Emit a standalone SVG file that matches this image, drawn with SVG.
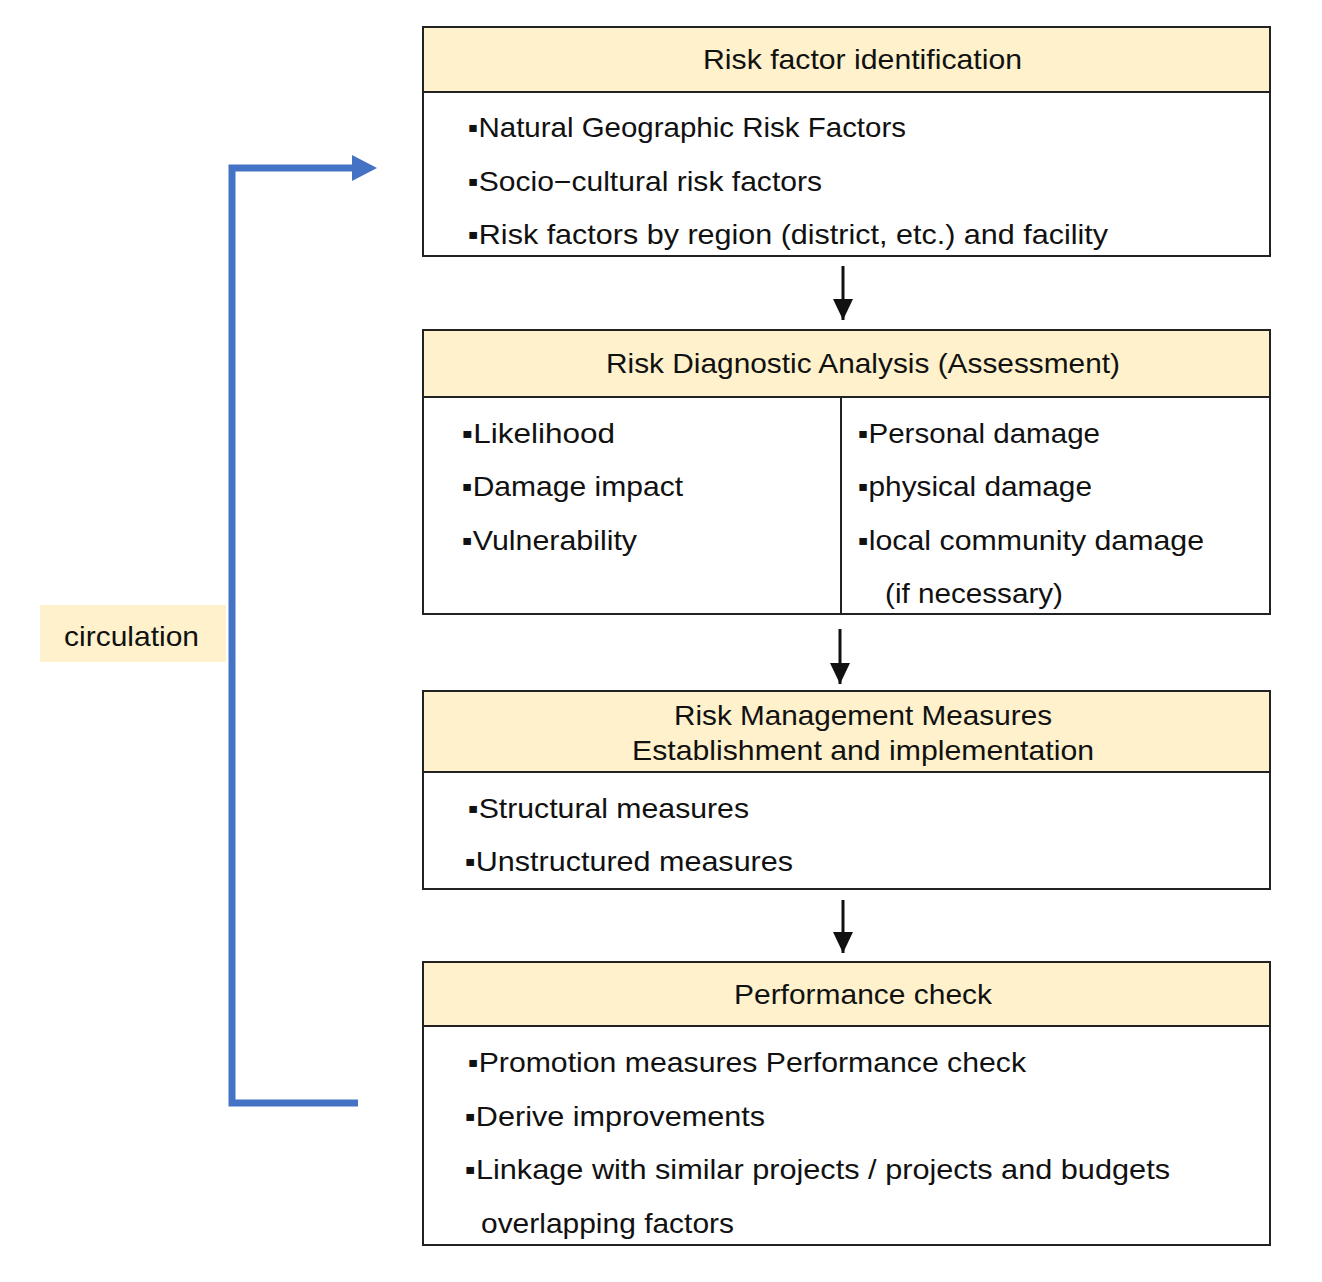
<svg xmlns="http://www.w3.org/2000/svg" width="1322" height="1282" viewBox="0 0 1322 1282">
<style>
.box{fill:#fff;stroke:#222;stroke-width:2}
.hd{fill:#fef1cb;stroke:#222;stroke-width:2}
.t{font-family:"Liberation Sans",Arial,sans-serif;font-size:28px;fill:#111}
.blue{fill:none;stroke:#4472c4;stroke-width:7}
.ar{stroke:#111;stroke-width:3;fill:none}
</style>
<defs>
<marker id="ah" viewBox="0 0 21 20" refX="21" refY="10" markerWidth="21" markerHeight="20" markerUnits="userSpaceOnUse" orient="auto">
<path d="M0,0 L21,10 L0,20 z" fill="#111"/>
</marker>
</defs>
<rect width="1322" height="1282" fill="#fff"/>

<g id="connectors">
<path class="blue" d="M358,1103 H232 V168 H356"/>
<path d="M352,155 L377,168 L352,181 z" fill="#4472c4"/>
<line class="ar" x1="843" y1="266" x2="843" y2="320" marker-end="url(#ah)"/>
<line class="ar" x1="840" y1="629" x2="840" y2="684" marker-end="url(#ah)"/>
<line class="ar" x1="843" y1="900" x2="843" y2="953" marker-end="url(#ah)"/>
</g>

<g id="circulation">
<rect x="40" y="605" width="186" height="57" fill="#fef1cb"/>
<text class="t" x="64" y="646" textLength="135" lengthAdjust="spacingAndGlyphs">circulation</text>
</g>

<g id="risk-identification">
<rect class="box" x="423" y="27" width="847" height="229"/>
<rect class="hd" x="423" y="27" width="847" height="65"/>
<text class="t" x="703" y="69" textLength="319" lengthAdjust="spacingAndGlyphs">Risk factor identification</text>
<text class="t" x="468" y="137" textLength="438" lengthAdjust="spacingAndGlyphs">▪Natural Geographic Risk Factors</text>
<text class="t" x="468" y="191" textLength="354" lengthAdjust="spacingAndGlyphs">▪Socio−cultural risk factors</text>
<text class="t" x="468" y="244" textLength="640" lengthAdjust="spacingAndGlyphs">▪Risk factors by region (district, etc.) and facility</text>
</g>

<g id="risk-diagnostic">
<rect class="box" x="423" y="330" width="847" height="284"/>
<rect class="hd" x="423" y="330" width="847" height="67"/>
<line x1="841" y1="397" x2="841" y2="614" stroke="#222" stroke-width="2"/>
<text class="t" x="606" y="373" textLength="514" lengthAdjust="spacingAndGlyphs">Risk Diagnostic Analysis (Assessment)</text>
<text class="t" x="462" y="443" textLength="153" lengthAdjust="spacingAndGlyphs">▪Likelihood</text>
<text class="t" x="462" y="496" textLength="221" lengthAdjust="spacingAndGlyphs">▪Damage impact</text>
<text class="t" x="462" y="550" textLength="175" lengthAdjust="spacingAndGlyphs">▪Vulnerability</text>
<text class="t" x="858" y="443" textLength="242" lengthAdjust="spacingAndGlyphs">▪Personal damage</text>
<text class="t" x="858" y="496" textLength="234" lengthAdjust="spacingAndGlyphs">▪physical damage</text>
<text class="t" x="858" y="550" textLength="346" lengthAdjust="spacingAndGlyphs">▪local community damage</text>
<text class="t" x="885" y="603" textLength="178" lengthAdjust="spacingAndGlyphs">(if necessary)</text>
</g>

<g id="risk-management">
<rect class="box" x="423" y="691" width="847" height="198"/>
<rect class="hd" x="423" y="691" width="847" height="81"/>
<text class="t" x="674" y="725" textLength="378" lengthAdjust="spacingAndGlyphs">Risk Management Measures</text>
<text class="t" x="632" y="760" textLength="462" lengthAdjust="spacingAndGlyphs">Establishment and implementation</text>
<text class="t" x="468" y="818" textLength="281" lengthAdjust="spacingAndGlyphs">▪Structural measures</text>
<text class="t" x="465" y="871" textLength="328" lengthAdjust="spacingAndGlyphs">▪Unstructured measures</text>
</g>

<g id="performance-check">
<rect class="box" x="423" y="962" width="847" height="283"/>
<rect class="hd" x="423" y="962" width="847" height="64"/>
<text class="t" x="734" y="1004" textLength="258" lengthAdjust="spacingAndGlyphs">Performance check</text>
<text class="t" x="468" y="1072" textLength="558" lengthAdjust="spacingAndGlyphs">▪Promotion measures Performance check</text>
<text class="t" x="465" y="1126" textLength="300" lengthAdjust="spacingAndGlyphs">▪Derive improvements</text>
<text class="t" x="465" y="1179" textLength="705" lengthAdjust="spacingAndGlyphs">▪Linkage with similar projects / projects and budgets</text>
<text class="t" x="481" y="1233" textLength="253" lengthAdjust="spacingAndGlyphs">overlapping factors</text>
</g>
</svg>
